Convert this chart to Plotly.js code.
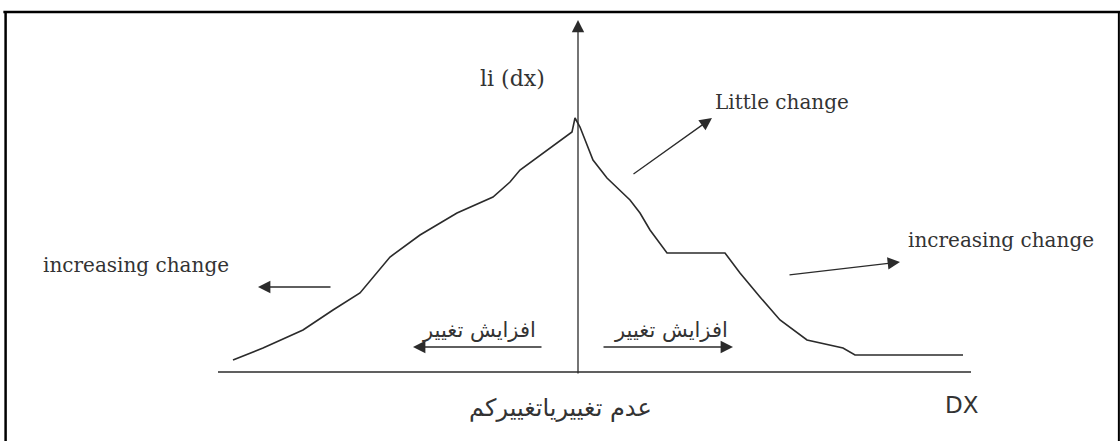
<!DOCTYPE html>
<html>
<head>
<meta charset="utf-8">
<script src="https://cdn.plot.ly/plotly-3.0.1.min.js"></script>
<style>
  html, body { margin: 0; padding: 0; background: #fff; }
  #chart { width: 1120px; height: 441px; }
</style>
</head>
<body>
<div id="chart"></div>
<script>
// li(dx) curve, DX on the horizontal axis (vertical axis at DX = 0)
const dxLeft = [-34.5, -31.5, -27.5, -24.5, -21.8, -18.8, -15.8, -12.1, -8.5, -6.8, -5.8, -3.1, -0.6, -0.3]
const liLeft = [1.2, 2.4, 4.2, 6.2, 7.9, 11.5, 13.7, 15.9, 17.5, 19.0, 20.2, 22.2, 24.0, 25.4]
const dxRight = [0.2, 1.5, 2.9, 5.2, 6.2, 7.2, 8.9, 14.7, 16.2, 18.2, 20.2, 22.9, 26.5, 27.7, 38.5]
const liRight = [24.5, 21.2, 19.4, 17.2, 15.9, 14.2, 11.9, 11.9, 9.9, 7.5, 5.2, 3.2, 2.4, 1.7, 1.7]

// labels
const yLabel = 'li (dx)'
const xLabel = 'DX'
const littleChange = 'Little change'
const increasingChange = 'increasing change'
const faIncrease = 'افزایش تغییر'
const faNoChange = 'عدم تغییریاتغییرکم'

const ink = '#2b2b2b'
const serif = 'DejaVu Serif, Liberation Serif, serif'
const sans = 'DejaVu Sans, sans-serif'

const curve = {
  x: [...dxLeft, ...dxRight],
  y: [...liLeft, ...liRight],
  type: 'scatter',
  mode: 'lines',
  line: { color: ink, width: 1.6 },
  hoverinfo: 'skip'
}

// arrow helper: tail (ax, ay) -> tip (x, y)
const arrow = (ax, ay, x, y) => ({
  x: x, y: y, ax: ax, ay: ay,
  xref: 'x', yref: 'y', axref: 'x', ayref: 'y',
  text: '', showarrow: true,
  arrowhead: 2, arrowsize: 1.9, arrowwidth: 1.3, arrowcolor: ink
})

const label = (text, x, y, size, family) => ({
  x: x, y: y, xref: 'x', yref: 'y',
  text: text, showarrow: false,
  font: { family: family || serif, size: size, color: '#333' }
})

const annotations = [
  arrow(0, -0.3, 0, 35.2),            // vertical axis
  arrow(-24.6, 8.5, -32.0, 8.5),
  arrow(-3.5, 2.5, -16.5, 2.5),
  arrow(2.4, 2.5, 15.5, 2.5),
  arrow(5.4, 19.7, 13.4, 25.4),
  arrow(21.0, 9.7, 32.2, 11.0),
  label(yLabel, -6.55, 29.4, 22),
  label(littleChange, 20.4, 27.0, 20),
  label(increasingChange, -44.2, 10.7, 20),
  label(increasingChange, 42.3, 13.2, 20),
  label(faIncrease, -9.9, 4.2, 21, sans),
  label(faIncrease, 9.3, 4.2, 21, sans),
  label(faNoChange, -1.8, -3.6, 24, sans),
  label(xLabel, 38.4, -3.3, 23, sans)
]

const shapes = [
  // horizontal axis
  { type: 'line', xref: 'x', yref: 'y', x0: -36.0, x1: 39.3, y0: 0, y1: 0,
    line: { color: ink, width: 1.5 } },
  // frame (top and sides)
  { type: 'line', xref: 'paper', yref: 'paper', x0: 0.003, x1: 1, y0: 0.973, y1: 0.973,
    line: { color: '#000', width: 2.5 } },
  { type: 'line', xref: 'paper', yref: 'paper', x0: 0.005, x1: 0.005, y0: 0, y1: 0.975,
    line: { color: '#000', width: 2.5 } },
  { type: 'line', xref: 'paper', yref: 'paper', x0: 0.999, x1: 0.999, y0: 0, y1: 0.975,
    line: { color: '#000', width: 2 } }
]

const hidden = {
  showgrid: false, zeroline: false, showticklabels: false,
  showline: false, ticks: '', fixedrange: true
}

const layout = {
  width: 1120,
  height: 441,
  margin: { l: 0, r: 0, t: 0, b: 0 },
  paper_bgcolor: '#fff',
  plot_bgcolor: '#fff',
  showlegend: false,
  xaxis: { ...hidden, range: [-57.8, 54.2] },
  yaxis: { ...hidden, range: [-6.9, 37.2] },
  shapes: shapes,
  annotations: annotations
}

Plotly.newPlot('chart', [curve], layout, { staticPlot: true, displayModeBar: false })
</script>
</body>
</html>
